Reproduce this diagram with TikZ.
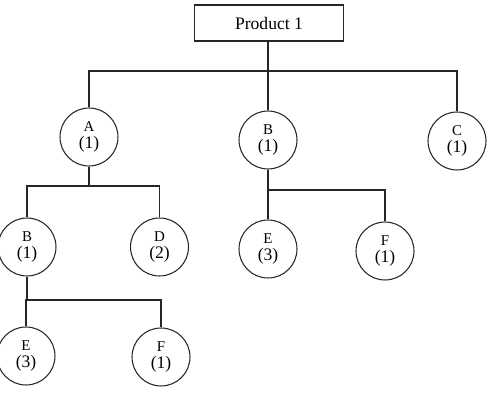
\documentclass[tikz,border=0pt]{standalone}
\usepackage{fontspec}
\setmainfont{Liberation Serif}
\usetikzlibrary{positioning}

\newcommand{\partlbl}[2]{{\fontsize{8.5}{10}\selectfont #1}\\(#2)}

\begin{document}
\begin{tikzpicture}[
    x=0.02cm, y=-0.02cm,
    line width=0.6pt, draw=black!85,
    top/.style={rectangle, draw, minimum width=2.98cm, minimum height=0.72cm, inner sep=0pt, font=\fontsize{10}{12}\selectfont},
    part/.style={circle, draw, minimum size=1.16cm, inner sep=0pt, align=center, font=\fontsize{10}{10}\selectfont},
    link/.style={draw}
  ]
    \useasboundingbox (0,0) rectangle (487,408);

    \node[top] (prod) at (269,23) {Product 1};

    \node[part] (a)  at (89,137)  {\partlbl{A}{1}};
    \node[part] (b)  at (268,140) {\partlbl{B}{1}};
    \node[part] (c)  at (457,141) {\partlbl{C}{1}};

    \node[part] (ab) at (27,247)  {\partlbl{B}{1}};
    \node[part] (ad) at (159.5,247) {\partlbl{D}{2}};

    \node[part] (abe) at (26,356) {\partlbl{E}{3}};
    \node[part] (abf) at (161,357) {\partlbl{F}{1}};

    \node[part] (be) at (268,249) {\partlbl{E}{3}};
    \node[part] (bf) at (385,251) {\partlbl{F}{1}};

    % junctions
    \coordinate (j0) at (b.north |- 0,71);
    \coordinate (ja) at (a.south |- 0,186);
    \coordinate (jab) at (ab.south |- 0,300);
    \coordinate (jb) at (b.south |- 0,190);

    \draw[link] (j0 |- prod.south) -- (j0);
    \draw[link] (j0) -| (a.north);
    \draw[link] (j0) -| (c.north);
    \draw[link] (j0) -- (b.north);

    \draw[link] (a.south) -- (ja);
    \draw[link] (ja) -| (ab.north);
    \draw[link] (ja) -| (ad.north);

    \draw[link] (ab.south) -- (jab);
    \draw[link] (jab) -| (abe.north);
    \draw[link] (jab) -| (abf.north);

    \draw[link] (b.south) -- (jb);
    \draw[link] (jb) -- (be.north);
    \draw[link] (jb) -| (bf.north);
  \end{tikzpicture}
\end{document}
